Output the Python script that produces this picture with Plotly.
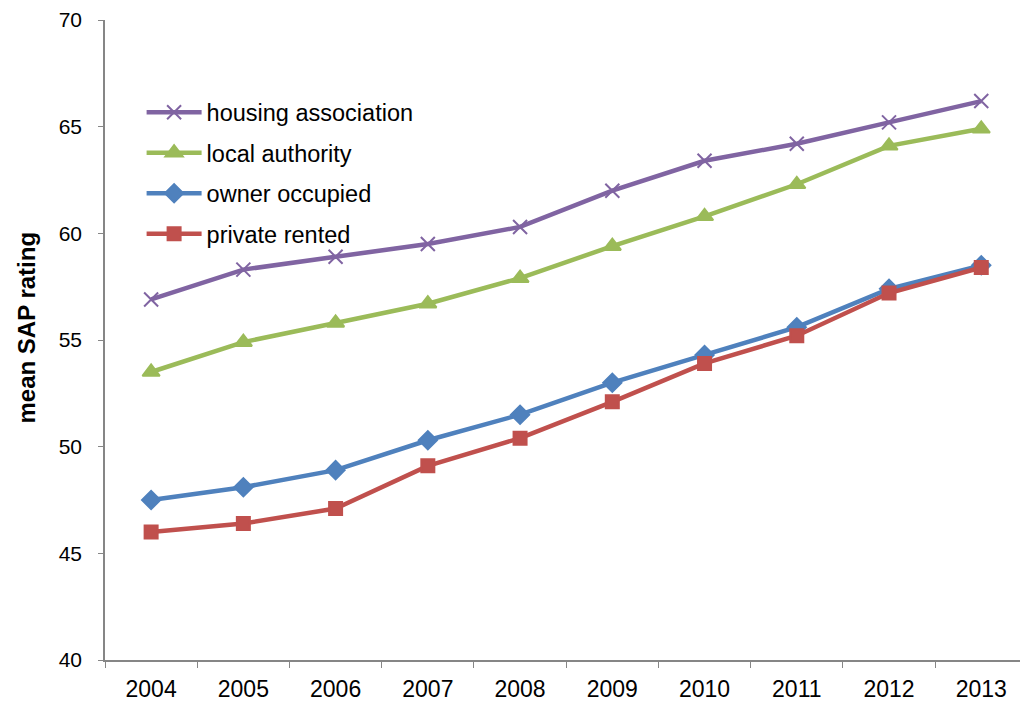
import plotly.graph_objects as go

years = ["2004", "2005", "2006", "2007", "2008", "2009", "2010", "2011", "2012", "2013"]
housing_association = [56.9, 58.3, 58.9, 59.5, 60.3, 62.0, 63.4, 64.2, 65.2, 66.2]
local_authority = [53.5, 54.9, 55.8, 56.7, 57.9, 59.4, 60.8, 62.3, 64.1, 64.9]
owner_occupied = [47.5, 48.1, 48.9, 50.3, 51.5, 53.0, 54.3, 55.6, 57.4, 58.5]
private_rented = [46.0, 46.4, 47.1, 49.1, 50.4, 52.1, 53.9, 55.2, 57.2, 58.4]

series = [
    ("housing association", housing_association, "#8064A2", "x-thin-open", 14),
    ("local authority", local_authority, "#9BBB59", "triangle-up", 15),
    ("owner occupied", owner_occupied, "#4F81BD", "diamond", 14),
    ("private rented", private_rented, "#C0504D", "square", 13),
]

fig = go.Figure()
for name, values, color, symbol, size in series:
    fig.add_trace(go.Scatter(
        x=years, y=values, name=name, legendgroup=name,
        mode="lines+markers",
        line=dict(color=color, width=4.5),
        marker=dict(symbol=symbol, size=size, color=color,
                    line=dict(color=color, width=2)),
    ))

axis_grey = "#868686"
font_family = "Liberation Sans, Arial, sans-serif"
fig.update_layout(
    width=1020, height=701,
    margin=dict(l=105, r=0, t=20, b=41),
    paper_bgcolor="white", plot_bgcolor="white",
    font=dict(family=font_family, size=21, color="black"),
    showlegend=True,
    legend=dict(x=0.04, y=0.89, xanchor="left", yanchor="top",
                bgcolor="rgba(0,0,0,0)", tracegroupgap=7, itemwidth=55,
                font=dict(size=23.5)),
    xaxis=dict(type="category", range=[-0.5, 9.42],
               showline=True, linecolor=axis_grey, linewidth=1.5,
               ticks="outside", tickson="boundaries", ticklen=6,
               tickcolor=axis_grey, showgrid=False, zeroline=False,
               tickfont=dict(size=23), ticklabelstandoff=8),
    yaxis=dict(range=[40, 70], dtick=5,
               showline=True, linecolor=axis_grey, linewidth=1.5,
               ticks="outside", ticklen=5, tickcolor=axis_grey,
               showgrid=False, zeroline=False,
               tickfont=dict(size=21), ticklabelstandoff=12),
)

# vertical axis title placed left of the tick labels
fig.add_annotation(
    text="<b>mean SAP rating</b>", textangle=-90,
    xref="paper", yref="paper", x=-0.086, y=0.52,
    xanchor="center", yanchor="middle", showarrow=False,
    font=dict(family=font_family, size=24, color="black"),
)

fig.write_html("out.html")
